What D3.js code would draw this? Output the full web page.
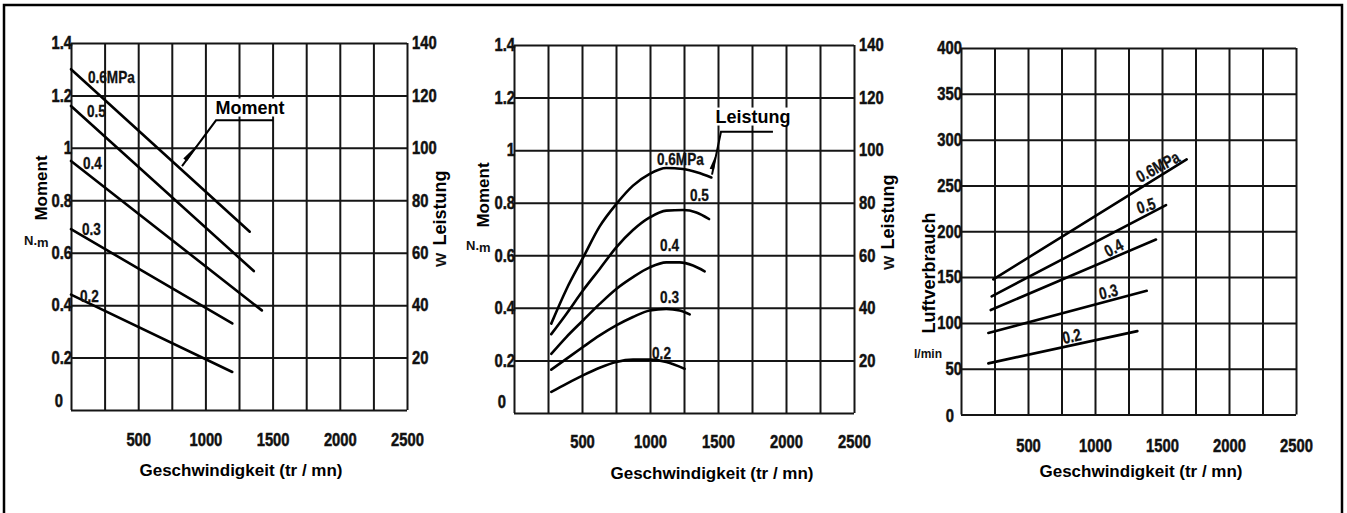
<!DOCTYPE html>
<html><head><meta charset="utf-8">
<script src="https://cdn.jsdelivr.net/npm/d3@7"></script>
<style>
html,body{margin:0;padding:0;background:#fff;}
svg{display:block;}
.num{font-family:"Liberation Sans",Arial,"DejaVu Sans",sans-serif;font-weight:bold;font-size:18px;fill:#111;stroke:#111;stroke-width:0.5px;}
.clab{font-family:"Liberation Sans",Arial,"DejaVu Sans",sans-serif;font-weight:bold;font-size:17px;fill:#111;stroke:#111;stroke-width:0.3px;}
.title{font-family:"Liberation Sans",Arial,"DejaVu Sans",sans-serif;font-weight:bold;font-size:17px;fill:#000;}
.ann{font-family:"Liberation Sans",Arial,"DejaVu Sans",sans-serif;font-weight:bold;font-size:18px;fill:#000;}
.unit{font-family:"Liberation Sans",Arial,"DejaVu Sans",sans-serif;font-weight:bold;font-size:16px;fill:#111;}
</style></head><body>
<svg id="c" width="1347" height="513"></svg>
<script>
// ---------------- data ----------------
const speedTicks = [500, 1000, 1500, 2000, 2500];
const speedGrid = [0, 250, 500, 750, 1000, 1250, 1500, 1750, 2000, 2250, 2500];
const torqueTicks = [0, 0.2, 0.4, 0.6, 0.8, 1, 1.2, 1.4];
const torqueTickLabels = ["0", "0.2", "0.4", "0.6", "0.8", "1", "1.2", "1.4"];
const powerTicks = [20, 40, 60, 80, 100, 120, 140];
const airTicks = [0, 50, 100, 150, 200, 250, 300, 350, 400];
const pressures = ["0.6MPa", "0.5", "0.4", "0.3", "0.2"];

// Panel 1: Moment (N.m) vs Geschwindigkeit
const momentSpeed = [[0, 1330], [0, 1360], [0, 1420], [0, 1200], [0, 1200]];
const momentValue = [[1.30, 0.68], [1.16, 0.53], [0.95, 0.38], [0.69, 0.33], [0.44, 0.145]];

// Panel 2: Leistung (W) vs Geschwindigkeit
const powerSpeed = [
  [274, 385, 507, 630, 752, 875, 998, 1120, 1243, 1350, 1451],
  [274, 385, 507, 630, 752, 875, 998, 1120, 1243, 1341, 1434],
  [274, 385, 507, 630, 752, 875, 998, 1120, 1218, 1316, 1402],
  [274, 385, 507, 630, 752, 875, 998, 1120, 1218, 1292],
  [274, 385, 507, 630, 752, 875, 998, 1120, 1255]
];
const powerValue = [
  [34, 47, 59, 71, 79.5, 86.5, 91, 93.2, 92.8, 91.5, 89.6],
  [30, 37.7, 46.6, 54.8, 63, 69.6, 74.4, 77, 77.2, 76.3, 73.8],
  [22.5, 28.9, 35.2, 41.5, 47.2, 51.7, 55.4, 57.3, 57.3, 56.1, 53.9],
  [16.5, 20.6, 25.1, 29.5, 33.3, 36.5, 39, 39.6, 39, 37.5],
  [8, 11.1, 14.3, 17.2, 19.4, 20.3, 20.3, 19.4, 16.8]
];

// Panel 3: Luftverbrauch (l/min) vs Geschwindigkeit
const airSpeed = [[241, 1684], [229, 1530], [222, 1455], [204, 1386], [204, 1316]];
const airValue = [[147.5, 278.5], [129, 228.6], [114, 191], [89, 135], [55.8, 91]];

// ---------------- layout ----------------
const svg = d3.select("#c");
svg.append("rect").attr("x", 4).attr("y", 5).attr("width", 1338).attr("height", 560)
  .attr("fill", "none").attr("stroke", "#000").attr("stroke-width", 2.5);

function condense(sel, f) {
  sel.each(function () {
    const w = this.getComputedTextLength();
    if (w > 0) d3.select(this).attr("textLength", w * f).attr("lengthAdjust", "spacingAndGlyphs");
  });
  return sel;
}

const panels = [
  { x0: 71, x1: 407, yT: 43, yB: 410, yMax: 1.4, yTicks: torqueTicks, yFmt: d => torqueTickLabels[torqueTicks.indexOf(d)],
    right: true, rMax: 140, xPad: 23.5, zeroShift: [-9, -9],
    speeds: momentSpeed, values: momentValue, scaleKey: "left", curve: d3.curveLinear,
    labels: [[126, 1.246, 0], [119, 1.116, 0], [89, 0.918, 0], [82, 0.666, 0], [67, 0.411, 0]], labelMode: "free",
    titleX: 241, titleY: 476, left: { text: "Moment", x: 47, y: 188, unit: "N.m", ux: 24, uy: 245 },
    rightT: { text: "Leistung", x: 446, y: 208, w: 260 },
    ann: { text: "Moment", tx: 1332, ty: 1.131, corner: [1079, 1.105], end: [1503, 1.105], tip: [826, 0.93] } },
  { x0: 514, x1: 854, yT: 45, yB: 413, yMax: 1.4, yTicks: torqueTicks, yFmt: d => torqueTickLabels[torqueTicks.indexOf(d)],
    right: true, rMax: 140, xPad: 22.5, zeroShift: [-9, -11],
    speeds: powerSpeed, values: powerValue, scaleKey: "right", curve: d3.curveMonotoneX,
    labels: [[1051, 94.5, 0], [1294, 80.8, 0], [1074, 61.7, 0], [1074, 41.9, 0], [1015, 20.6, 0]], labelMode: "free",
    titleX: 712, titleY: 479, left: { text: "Moment", x: 489, y: 195, unit: "N.m", ux: 466, uy: 250 },
    rightT: { text: "Leistung", x: 894, y: 212, w: 263 },
    ann: { text: "Leistung", tx: 1757, ty: 110.5, corner: [1522, 107], end: [1904, 107], tip: [1456, 90.7] } },
  { x0: 961, x1: 1296, yT: 48, yB: 414.5, yMax: 400, yTicks: airTicks, yFmt: d => String(d),
    right: false, xPad: 25, zeroShift: [-8, 1],
    speeds: airSpeed, values: airValue, scaleKey: "left", curve: d3.curveLinear,
    labels: [[1500, 0, -28], [1400, 0, -17], [1170, 0, -27], [1115, 0, -13], [840, 0, -12]], labelMode: "online",
    titleX: 1141, titleY: 477, left: { text: "Luftverbrauch", x: 935, y: 273, unit: "l/min", ux: 914, uy: 358 } }
];

panels.forEach(p => {
  const g = svg.append("g");
  const x = d3.scaleLinear().domain([0, 2500]).range([p.x0, p.x1]);
  const y = d3.scaleLinear().domain([0, p.yMax]).range([p.yB, p.yT]);
  const yr = p.right ? d3.scaleLinear().domain([0, p.rMax]).range([p.yB, p.yT]) : null;
  const ys = p.scaleKey === "right" ? yr : y;

  // grid
  const gv = g.append("g").attr("transform", `translate(0,${p.yB})`)
    .call(d3.axisBottom(x).tickValues(speedGrid).tickSize(-(p.yB - p.yT)).tickFormat(""));
  gv.select(".domain").remove();
  gv.selectAll("line").attr("stroke", "#151515").attr("stroke-width", 2);
  const gh = g.append("g").attr("transform", `translate(${p.x0},0)`)
    .call(d3.axisLeft(y).tickValues(p.yTicks).tickSize(-(p.x1 - p.x0)).tickFormat(""));
  gh.select(".domain").remove();
  gh.selectAll("line").attr("stroke", "#151515").attr("stroke-width", 2);

  // x tick labels
  const xa = g.append("g").attr("transform", `translate(0,${p.yB})`)
    .call(d3.axisBottom(x).tickValues(speedTicks).tickSize(0).tickPadding(p.xPad).tickFormat(d => String(d)));
  xa.select(".domain").remove();
  condense(xa.selectAll("text").attr("class", "num"), 0.82);

  // left tick labels
  const ya = g.append("g").attr("transform", `translate(${p.x0 + 1},0)`)
    .call(d3.axisLeft(y).tickValues(p.yTicks).tickSize(0).tickPadding(0).tickFormat(p.yFmt));
  ya.select(".domain").remove();
  condense(ya.selectAll("text").attr("class", "num"), 0.82);
  ya.selectAll(".tick").filter(d => d === 0).select("text")
    .attr("transform", `translate(${p.zeroShift[0]},${p.zeroShift[1]})`);

  // right tick labels
  if (p.right) {
    const ra = g.append("g").attr("transform", `translate(${p.x1},0)`)
      .call(d3.axisRight(yr).tickValues(powerTicks).tickSize(0).tickPadding(5).tickFormat(d => String(d)));
    ra.select(".domain").remove();
    condense(ra.selectAll("text").attr("class", "num"), 0.82);
  }

  // curves
  const line = d3.line().x(d => x(d[0])).y(d => ys(d[1])).curve(p.curve);
  p.speeds.forEach((sp, i) => {
    const pts = sp.map((s, j) => [s, p.values[i][j]]);
    g.append("path").datum(pts).attr("d", line)
      .attr("fill", "none").attr("stroke", "#000").attr("stroke-width", 2.6)
      .attr("stroke-linecap", "round").attr("stroke-linejoin", "round");
  });

  // curve labels
  pressures.forEach((name, i) => {
    const L = p.labels[i];
    const t = g.append("text").attr("class", "clab").text(name);
    if (p.labelMode === "online") {
      const interp = d3.scaleLinear().domain(p.speeds[i]).range(p.values[i]);
      t.attr("text-anchor", "middle").attr("y", -3)
        .attr("transform", `translate(${x(L[0])},${ys(interp(L[0]))}) rotate(${L[2]})`);
    } else {
      t.attr("x", x(L[0])).attr("y", ys(L[1]));
    }
    condense(t, 0.8);
  });

  // axis titles
  g.append("text").attr("class", "title").attr("x", p.titleX).attr("y", p.titleY)
    .attr("text-anchor", "middle").text("Geschwindigkeit (tr / mn)");
  g.append("text").attr("class", p.left.text === "Luftverbrauch" ? "ann" : "title")
    .attr("transform", `translate(${p.left.x},${p.left.y}) rotate(-90)`)
    .attr("text-anchor", "middle").text(p.left.text);
  if (p.left.unit === "N.m") {
    const u = g.append("text").attr("class", "unit").style("font-size", "13px")
      .attr("x", p.left.ux).attr("y", p.left.uy);
    u.append("tspan").text("N.");
    u.append("tspan").attr("dy", 2).text("m");
  } else {
    g.append("text").attr("class", "unit").attr("x", p.left.ux).attr("y", p.left.uy)
      .style("font-size", "12px").text(p.left.unit);
  }
  if (p.rightT) {
    g.append("text").attr("class", "ann")
      .attr("transform", `translate(${p.rightT.x},${p.rightT.y}) rotate(-90)`)
      .attr("text-anchor", "middle").text(p.rightT.text);
    g.append("text").attr("class", "unit").style("font-size", "15px")
      .attr("transform", `translate(${p.rightT.x},${p.rightT.w}) rotate(-90)`)
      .attr("text-anchor", "middle").text("W");
  }

  // annotation with leader
  if (p.ann) {
    const a = p.ann;
    const c = [x(a.corner[0]), ys(a.corner[1])];
    const e = [x(a.end[0]), ys(a.end[1])];
    const tip = [x(a.tip[0]), ys(a.tip[1])];
    const tx = g.append("text").attr("class", "ann").attr("x", x(a.tx)).attr("y", ys(a.ty))
      .attr("text-anchor", "middle").text(a.text);
    const bb = tx.node().getBBox();
    g.insert("rect", () => tx.node()).attr("x", bb.x - 2).attr("y", bb.y + 1).attr("width", bb.width + 4)
      .attr("height", bb.height - 2).attr("fill", "#fff");
    g.append("path").attr("d", `M${e[0]},${e[1]}L${c[0]},${c[1]}L${tip[0]},${tip[1]}`)
      .attr("fill", "none").attr("stroke", "#000").attr("stroke-width", 2);
    const dx = tip[0] - c[0], dy = tip[1] - c[1], len = Math.hypot(dx, dy);
    const ux = dx / len, uy = dy / len, nx = -uy, ny = ux;
    const a0 = [c[0] + ux * len * 0.5, c[1] + uy * len * 0.5];
    const b0 = [c[0] + ux * len * 0.88, c[1] + uy * len * 0.88];
    g.append("path").attr("d", `M${a0[0]},${a0[1]}L${b0[0] + nx * 3.5},${b0[1] + ny * 3.5}L${b0[0] - nx * 1},${b0[1] - ny * 1}Z`)
      .attr("fill", "#000");
  }
});
</script>
</body></html>
